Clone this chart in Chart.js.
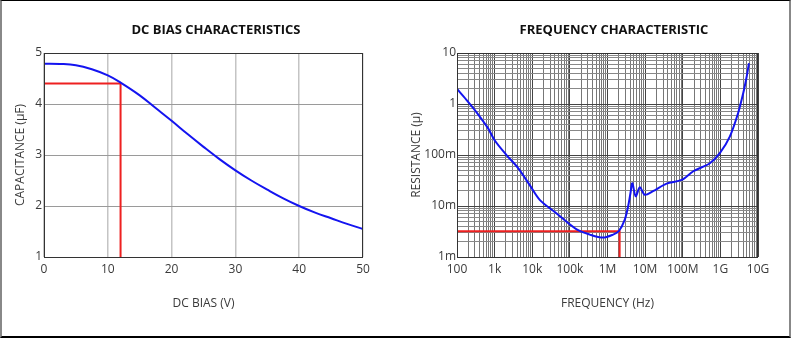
<!DOCTYPE html>
<html>
<head>
<meta charset="utf-8">
<script src="https://cdn.jsdelivr.net/npm/chart.js@4.4.1/dist/chart.umd.min.js"></script>
<style>
  html, body { margin: 0; padding: 0; background: #fff; }
  #page { position: relative; width: 791px; height: 338px; overflow: hidden; }
  #frame { position: absolute; left: 0; top: 0; width: 791px; height: 338px; box-sizing: border-box;
    border-top: 1px solid #000; border-bottom: 2px solid #000; border-left: 2px solid #888; border-right: 2px solid #888; pointer-events: none; }
  .ttl { position: absolute; top: 21px; width: 260px; text-align: center; font: 700 13px/16px 'Open Sans', sans-serif; color: #111; }
  canvas { position: absolute; top: 0; }
</style>
</head>
<body>
<div id="page">
  <canvas id="bias" width="395" height="338" style="left:0"></canvas>
  <canvas id="freq" width="396" height="338" style="left:395px"></canvas>
  <div class="ttl" style="left:86px">DC BIAS CHARACTERISTICS</div>
  <div class="ttl" style="left:484px">FREQUENCY CHARACTERISTIC</div>
  <div id="frame"></div>
</div>
<script>
// DC bias chart
const biasV = [0, 2.5, 5, 7.5, 10, 12, 15, 17.5, 20, 22.5, 25, 27.5, 30, 32.5, 35, 37.5, 40, 42.5, 45, 47.5, 50];
const capUF = [4.79, 4.785, 4.76, 4.68, 4.56, 4.42, 4.17, 3.92, 3.67, 3.41, 3.16, 2.92, 2.70, 2.50, 2.32, 2.15, 2.0, 1.87, 1.76, 1.65, 1.55];
const biasTicks = [0, 10, 20, 30, 40, 50];
const capTicks = [1, 2, 3, 4, 5];
const biasMarkV = 12, capMarkUF = 4.4;

// frequency chart
const freqHz = [100, 178, 316, 660, 1000, 2040, 4170, 8500, 15800, 43700, 151000, 339000, 758000, 1410000, 2000000,
  2880000, 3550000, 4070000, 4570000, 5620000, 7240000, 9770000, 16200000, 37200000, 93300000, 191000000,
  525000000, 977000000, 1780000000, 2950000000, 4070000000, 5010000000, 5750000000];
const resOhm = [1.97, 1.21, 0.72, 0.34, 0.195, 0.101, 0.056, 0.026, 0.0132, 0.0072, 0.00347, 0.00275, 0.0024, 0.00275, 0.0032,
  0.0054, 0.01, 0.0178, 0.028, 0.0155, 0.0234, 0.0166, 0.0195, 0.0275, 0.0324, 0.048,
  0.069, 0.11, 0.23, 0.66, 1.66, 3.47, 6.3];
const freqTicks = [1e2, 1e3, 1e4, 1e5, 1e6, 1e7, 1e8, 1e9, 1e10];
const freqTickLabels = ['100', '1k', '10k', '100k', '1M', '10M', '100M', '1G', '10G'];
const resTicks = [1e-3, 1e-2, 1e-1, 1, 10];
const resTickLabels = ['1m', '10m', '100m', '1', '10'];
const freqMarkHz = 2.1e6, resMarkOhm = 0.0032;

Chart.defaults.font.family = "'Open Sans', sans-serif";
Chart.defaults.font.size = 12;
Chart.defaults.color = '#3a3a3a';

const BLUE = '#1414f0', RED = '#ee2020';

// box round the plot area
const framePlugin = {
  id: 'frame',
  afterDraw(chart) {
    const a = chart.chartArea, c = chart.ctx;
    c.save();
    c.strokeStyle = '#333';
    c.lineWidth = 1;
    c.strokeRect(a.left + 0.5, a.top + 0.5, a.right - a.left - 1, a.bottom - a.top);
    c.restore();
  }
};

// 2..9 between decades, for the log grid
function withMinors(majors) {
  const out = [];
  majors.forEach((d, i) => {
    out.push(d);
    if (i < majors.length - 1) for (let k = 2; k <= 9; k++) out.push(d * k);
  });
  return out;
}

function setTicks(list) {
  return s => { s.ticks = list.map(v => ({ value: v })); };
}

new Chart(document.getElementById('bias'), {
  type: 'line',
  data: {
    datasets: [{
      data: biasV.map((v, i) => ({ x: v, y: capUF[i] })),
      borderColor: BLUE, borderWidth: 2, pointRadius: 0, tension: 0.4
    }, {
      data: [{ x: 0, y: capMarkUF }, { x: biasMarkV, y: capMarkUF }, { x: biasMarkV, y: 1 }],
      borderColor: RED, borderWidth: 2, pointRadius: 0, tension: 0
    }]
  },
  options: {
    responsive: false, animation: false,
    layout: { padding: { left: 0, top: 53, right: 32, bottom: 0 } },
    plugins: { legend: { display: false }, tooltip: { enabled: false } },
    scales: {
      x: {
        type: 'linear', min: 0, max: 50,
        afterBuildTicks: setTicks(biasTicks),
        afterFit: s => { s.height = 81; },
        grid: { color: '#c4c4c4', lineWidth: 1.5, drawTicks: false },
        border: { display: false },
        ticks: { padding: 5, maxRotation: 0, autoSkip: false },
        title: { display: true, text: 'DC BIAS (V)', padding: { top: 0, bottom: 27 } }
      },
      y: {
        type: 'linear', min: 1, max: 5,
        afterBuildTicks: setTicks(capTicks),
        afterFit: s => { s.width = 44; },
        grid: { color: '#9a9a9a', lineWidth: 1, drawTicks: false },
        border: { display: false },
        ticks: { padding: 2, autoSkip: false },
        title: { display: true, text: 'CAPACITANCE (µF)', padding: { top: 13, bottom: 0 } }
      }
    }
  },
  plugins: [framePlugin]
});

new Chart(document.getElementById('freq'), {
  type: 'line',
  data: {
    datasets: [{
      data: freqHz.map((f, i) => ({ x: f, y: resOhm[i] })),
      borderColor: BLUE, borderWidth: 2, pointRadius: 0, tension: 0.3
    }, {
      data: [{ x: freqTicks[0], y: resMarkOhm }, { x: freqMarkHz, y: resMarkOhm }, { x: freqMarkHz, y: resTicks[0] }],
      borderColor: RED, borderWidth: 2, pointRadius: 0, tension: 0
    }]
  },
  options: {
    responsive: false, animation: false,
    layout: { padding: { left: 0, top: 53, right: 33, bottom: 0 } },
    plugins: { legend: { display: false }, tooltip: { enabled: false } },
    scales: {
      x: {
        type: 'logarithmic', min: freqTicks[0], max: freqTicks[freqTicks.length - 1],
        afterBuildTicks: setTicks(withMinors(freqTicks)),
        afterFit: s => { s.height = 81; },
        grid: { color: ctx => freqTicks.includes(ctx.tick && ctx.tick.value) ? '#444' : '#777', lineWidth: 1, drawTicks: false },
        border: { display: false },
        ticks: {
          padding: 5, maxRotation: 0, autoSkip: false,
          callback: v => { const i = freqTicks.indexOf(v); return i < 0 ? '' : freqTickLabels[i]; }
        },
        title: { display: true, text: 'FREQUENCY (Hz)', padding: { top: 0, bottom: 27 } }
      },
      y: {
        type: 'logarithmic', min: resTicks[0], max: resTicks[resTicks.length - 1],
        afterBuildTicks: setTicks(withMinors(resTicks)),
        afterFit: s => { s.width = 62; },
        grid: { color: ctx => resTicks.includes(ctx.tick && ctx.tick.value) ? '#444' : '#888', lineWidth: 1, drawTicks: false },
        border: { display: false },
        ticks: {
          padding: 1, autoSkip: false,
          callback: v => { const i = resTicks.indexOf(v); return i < 0 ? '' : resTickLabels[i]; }
        },
        title: { display: true, text: 'RESISTANCE (µ)', padding: { top: 14, bottom: 0 } }
      }
    }
  },
  plugins: [framePlugin]
});
</script>
</body>
</html>
